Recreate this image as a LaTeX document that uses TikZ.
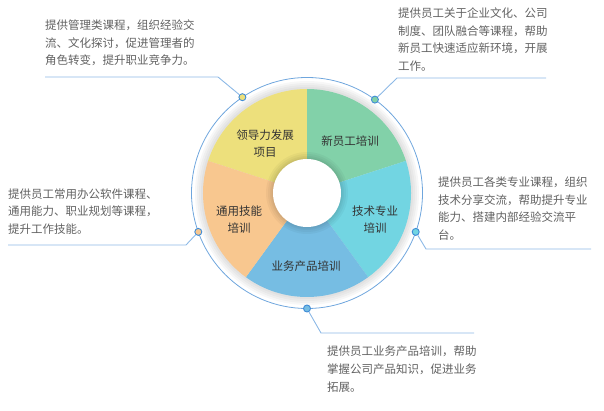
\documentclass[tikz,border=0pt]{standalone}
\usepackage{fontspec}
\setmainfont{Noto Sans CJK SC}
\definecolor{leadc}{HTML}{EDE07C}
\definecolor{newc}{HTML}{82D1A9}
\definecolor{techc}{HTML}{72D5E2}
\definecolor{bizc}{HTML}{76BDE3}
\definecolor{genc}{HTML}{F8C78F}
\definecolor{ringc}{HTML}{6FA6DD}
\definecolor{linec}{HTML}{8DB9E6}
\definecolor{dotc}{HTML}{3E8BD6}
\tikzset{
  desc/.style={anchor=north west,inner sep=0,align=left,text=black!62,font=\fontsize{11.5}{17.6}\selectfont},
  lbl/.style={align=center,inner sep=0,text=black!80,font=\fontsize{11.5}{17}\selectfont},
  dot/.style={circle,draw=dotc,line width=0.9pt,inner sep=0,minimum size=7pt},
  link/.style={draw=linec,line width=0.9pt}
}
\begin{document}
\begin{tikzpicture}[x=1pt,y=1pt]
  \useasboundingbox (0,0) rectangle (604,-411);
  \coordinate (hub) at (307,-193);

  \draw[ringc,line width=0.8pt] (hub) circle (115.5);
  \foreach \r in {112,110,108,106} \fill[black,opacity=0.03] (hub) circle (\r);

  \fill[leadc] (hub) -- ++(90:104) arc (90:162:104) -- cycle;
  \fill[newc] (hub) -- ++(18:104) arc (18:90:104) -- cycle;
  \fill[techc] (hub) -- ++(-54:104) arc (-54:18:104) -- cycle;
  \fill[bizc] (hub) -- ++(-126:104) arc (-126:-54:104) -- cycle;
  \fill[genc] (hub) -- ++(162:104) arc (162:234:104) -- cycle;

  \foreach \r in {41,39,37,35.5} \fill[black,opacity=0.035] (hub) circle (\r);
  \fill[white] (hub) circle (34);

  \node[lbl] (leadL) at (265,-143.5) {领导力发展\\项目};
  \node[lbl] (newL) at (350,-141) {新员工培训};
  \node[lbl] (techL) at (375,-220) {技术专业\\培训};
  \node[lbl] (bizL) at (306,-266) {业务产品培训};
  \node[lbl] (genL) at (239,-220) {通用技能\\培训};

  \node[desc] (leadD) at (45,-19.5) {提供管理类课程，组织经验交\\流、文化探讨，促进管理者的\\角色转变，提升职业竞争力。};
  \node[desc] (newD) at (398,-7.5) {提供员工关于企业文化、公司\\制度、团队融合等课程，帮助\\新员工快速适应新环境，开展\\工作。};
  \node[desc] (genD) at (8,-188.5) {提供员工常用办公软件课程、\\通用能力、职业规划等课程，\\提升工作技能。};
  \node[desc] (techD) at (438,-176.5) {提供员工各类专业课程，组织\\技术分享交流，帮助提升专业\\能力、搭建内部经验交流平\\台。};
  \node[desc] (bizD) at (327,-346) {提供员工业务产品培训，帮助\\掌握公司产品知识，促进业务\\拓展。};

  \coordinate (leadA) at (218,-77);
  \coordinate (leadB) at (45,-77);
  \coordinate (newA) at (397,-78);
  \coordinate (newB) at (546,-78);
  \coordinate (genA) at (186,-245);
  \coordinate (genB) at (8,-245);
  \coordinate (techA) at (426,-249);
  \coordinate (techB) at (591,-249);
  \coordinate (bizA) at (321,-333);
  \coordinate (bizB) at (474,-333);

  \node[dot,fill=leadc] (leadP) at (242.4,-97.2) {};
  \node[dot,fill=newc] (newP) at (374.9,-99.6) {};
  \node[dot,fill=genc] (genP) at (198.3,-231.9) {};
  \node[dot,fill=techc] (techP) at (415.7,-231.9) {};
  \node[dot,fill=bizc] (bizP) at (307,-308.5) {};

  \draw[link] (leadP) -- (leadA) -- (leadB);
  \draw[link] (newP) -- (newA) -- (newB);
  \draw[link] (genP) -- (genA) -- (genB);
  \draw[link] (techP) -- (techA) -- (techB);
  \draw[link] (bizP) -- (bizA) -- (bizB);
\end{tikzpicture}
\end{document}
